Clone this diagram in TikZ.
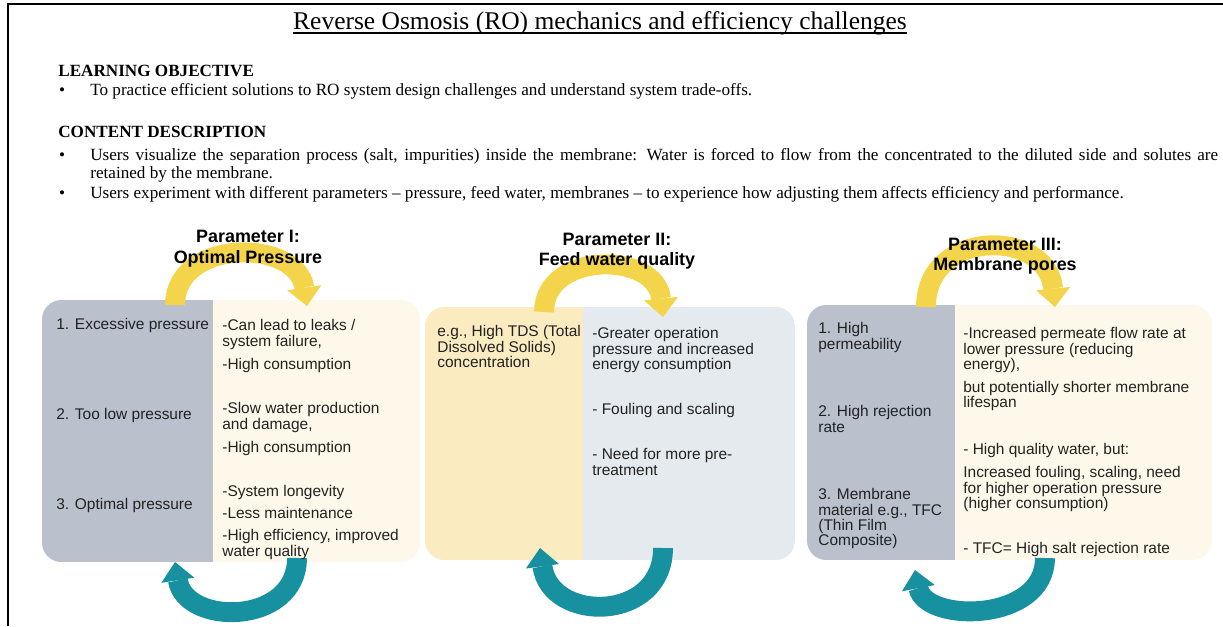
\documentclass[tikz,border=0pt]{standalone}
\usepackage{fontspec}
\setmainfont{Liberation Serif}
\setsansfont{Liberation Sans}
\usepackage{tikz}
\usetikzlibrary{arrows.meta}
\usetikzlibrary{fit}

\definecolor{slate}{HTML}{BAC1CC}
\definecolor{cream}{HTML}{FDF8E9}
\definecolor{straw}{HTML}{FBEBC1}
\definecolor{mist}{HTML}{E5EAEE}
\definecolor{sun}{HTML}{F3D44B}
\definecolor{lagoon}{HTML}{17919F}
\definecolor{ink}{HTML}{222222}

\newcommand{\headsize}{\fontsize{9.75}{10.2}\selectfont}
\newcommand{\panelsize}{\sffamily\fontsize{8.8}{8.8}\selectfont}

\begin{document}
\begin{tikzpicture}[
  x=0.02cm, y=-0.02cm,
  hd/.style = {anchor=base west, inner sep=0pt, font=\headsize\bfseries},
  body/.style = {anchor=base west, inner sep=0pt, font=\headsize},
  half/.style = {inner sep=0pt, draw=none},
  ptitle/.style = {align=center, inner sep=0pt, font=\sffamily\fontsize{10.2}{11.6}\selectfont\bfseries},
  ptxt/.style = {anchor=north west, inner sep=0pt, align=left, font=\panelsize, text=ink},
  yarc/.style = {draw=sun, line width=11.3pt, -{Triangle[width=19.5pt,length=10.5pt,line width=0pt]}},
  tarc/.style = {draw=lagoon, line width=11.3pt, -{Triangle[width=19pt,length=10.5pt,line width=0pt]}}
  ]
  \useasboundingbox (0,0) rectangle (1223,626);
  \draw[line width=1.2pt] (8,626) |- (1223,4);

  % heading and description
  \node[anchor=base, inner sep=0pt, font=\fontsize{14.5}{16}\selectfont] (ttl) at (600,29) {Reverse Osmosis (RO) mechanics and efficiency challenges};
  \draw[line width=0.7pt] ([yshift=-2.3pt]ttl.base west) -- ([yshift=-2.3pt]ttl.base east);

  \node[hd] (lo) at (58,76) {LEARNING OBJECTIVE};
  \node[body,anchor=base] (b1) at (62,95) {\textbullet};
  \node[body] (lo1) at (90,95) {To practice efficient solutions to RO system design challenges and understand system trade-offs.};

  \node[hd] (cd) at (58,137) {CONTENT DESCRIPTION};
  \node[body,anchor=base] (b2) at (62,160) {\textbullet};
  \node[body,anchor=north west,text width=22.56cm,align=justify] (cd1) at (90,148.5) {Users visualize the separation process (salt, impurities) inside the membrane: Water is forced to flow from the concentrated to the diluted side and solutes are\linebreak retained by the membrane.};
  \node[body,anchor=base] (b3) at (62,198) {\textbullet};
  \node[body] (cd2) at (90,198) {Users experiment with different parameters -- pressure, feed water, membranes -- to experience how adjusting them affects efficiency and performance.};

  % the three boxes
  \begin{scope}
    \clip[rounded corners=11pt] (42,300) rectangle (420,562);
    \node[half, fill=slate, fit={(42,300) (213,562)}] (p1l) {};
    \node[half, fill=cream, fit={(213,300) (420,562)}] (p1r) {};
  \end{scope}
  \begin{scope}
    \clip[rounded corners=11pt] (425,307) rectangle (795,560);
    \node[half, fill=straw, fit={(425,307) (583,560)}] (p2l) {};
    \node[half, fill=mist, fit={(583,307) (795,560)}] (p2r) {};
  \end{scope}
  \begin{scope}
    \clip[rounded corners=11pt] (807,305) rectangle (1212,560);
    \node[half, fill=slate, fit={(807,305) (955,560)}] (p3l) {};
    \node[half, fill=cream, fit={(955,305) (1212,560)}] (p3r) {};
  \end{scope}

  % round arrows
  \coordinate (y1a) at (175,305);
  \coordinate (y1b) at (307,306);
  \coordinate (t1a) at (297,558);
  \coordinate (t1b) at (175,562);
  \coordinate (y2a) at (544,312);
  \coordinate (y2b) at (663,317);
  \coordinate (t2a) at (663,548);
  \coordinate (t2b) at (540,548);
  \coordinate (y3a) at (926,307);
  \coordinate (y3b) at (1055,307);
  \coordinate (t3a) at (1045,558);
  \coordinate (t3b) at (915,570);

  \draw[yarc] (y1a) .. controls (175,238) and (297,238) .. (y1b);
  \draw[tarc] (t1a) .. controls (297,626) and (185,626) .. (t1b);
  \draw[yarc] (y2a) .. controls (544,251) and (656,251) .. (y2b);
  \draw[tarc] (t2a) .. controls (663,623) and (550,623) .. (t2b);
  \draw[yarc] (y3a) .. controls (926,228) and (1047,228) .. (y3b);
  \draw[tarc] (t3a) .. controls (1045,623) and (925,623) .. (t3b);

  \node[ptitle] (p1t) at (248,248.5) {Parameter I:\\Optimal Pressure};
  \node[ptitle] (p2t) at (617,251) {Parameter II:\\Feed water quality};
  \node[ptitle] (p3t) at (1005,256) {Parameter III:\\Membrane pores};

  % parameter I
  \node[ptxt] (p1l1) at (56,318) {1. Excessive pressure};
  \node[ptxt] (p1l2) at (56,408) {2. Too low pressure};
  \node[ptxt] (p1l3) at (56,498) {3. Optimal pressure};
  \node[ptxt] (p1r1) at (222,319) {-Can lead to leaks /\\system failure,\\[4.3pt]-High consumption};
  \node[ptxt] (p1r2) at (222,402) {-Slow water production\\and damage,\\[4.3pt]-High consumption};
  \node[ptxt] (p1r3) at (222,485) {-System longevity\\[3.8pt]-Less maintenance\\[3.8pt]-High efficiency, improved\\water quality};

  % parameter II
  \node[ptxt] (p2l1) at (437,325) {e.g., High TDS (Total\\Dissolved Solids)\\concentration};
  \node[ptxt] (p2r1) at (592,327) {-Greater operation\\pressure and increased\\energy consumption};
  \node[ptxt] (p2r2) at (592,403) {- Fouling and scaling};
  \node[ptxt] (p2r3) at (592,448) {- Need for more pre-\\treatment};

  % parameter III
  \node[ptxt] (p3l1) at (818,322) {1. High\\permeability};
  \node[ptxt] (p3l2) at (818,405) {2. High rejection\\rate};
  \node[ptxt] (p3l3) at (818,488) {3. Membrane\\material e.g., TFC\\(Thin Film\\Composite)};
  \node[ptxt] (p3r1) at (963,327) {-Increased permeate flow rate at\\lower pressure (reducing\\energy),\\[4.3pt]but potentially shorter membrane\\lifespan};
  \node[ptxt] (p3r2) at (963,443) {- High quality water, but:\\[4.3pt]Increased fouling, scaling, need\\for higher operation pressure\\(higher consumption)};
  \node[ptxt] (p3r3) at (963,542) {- TFC= High salt rejection rate};

\end{tikzpicture}
\end{document}
